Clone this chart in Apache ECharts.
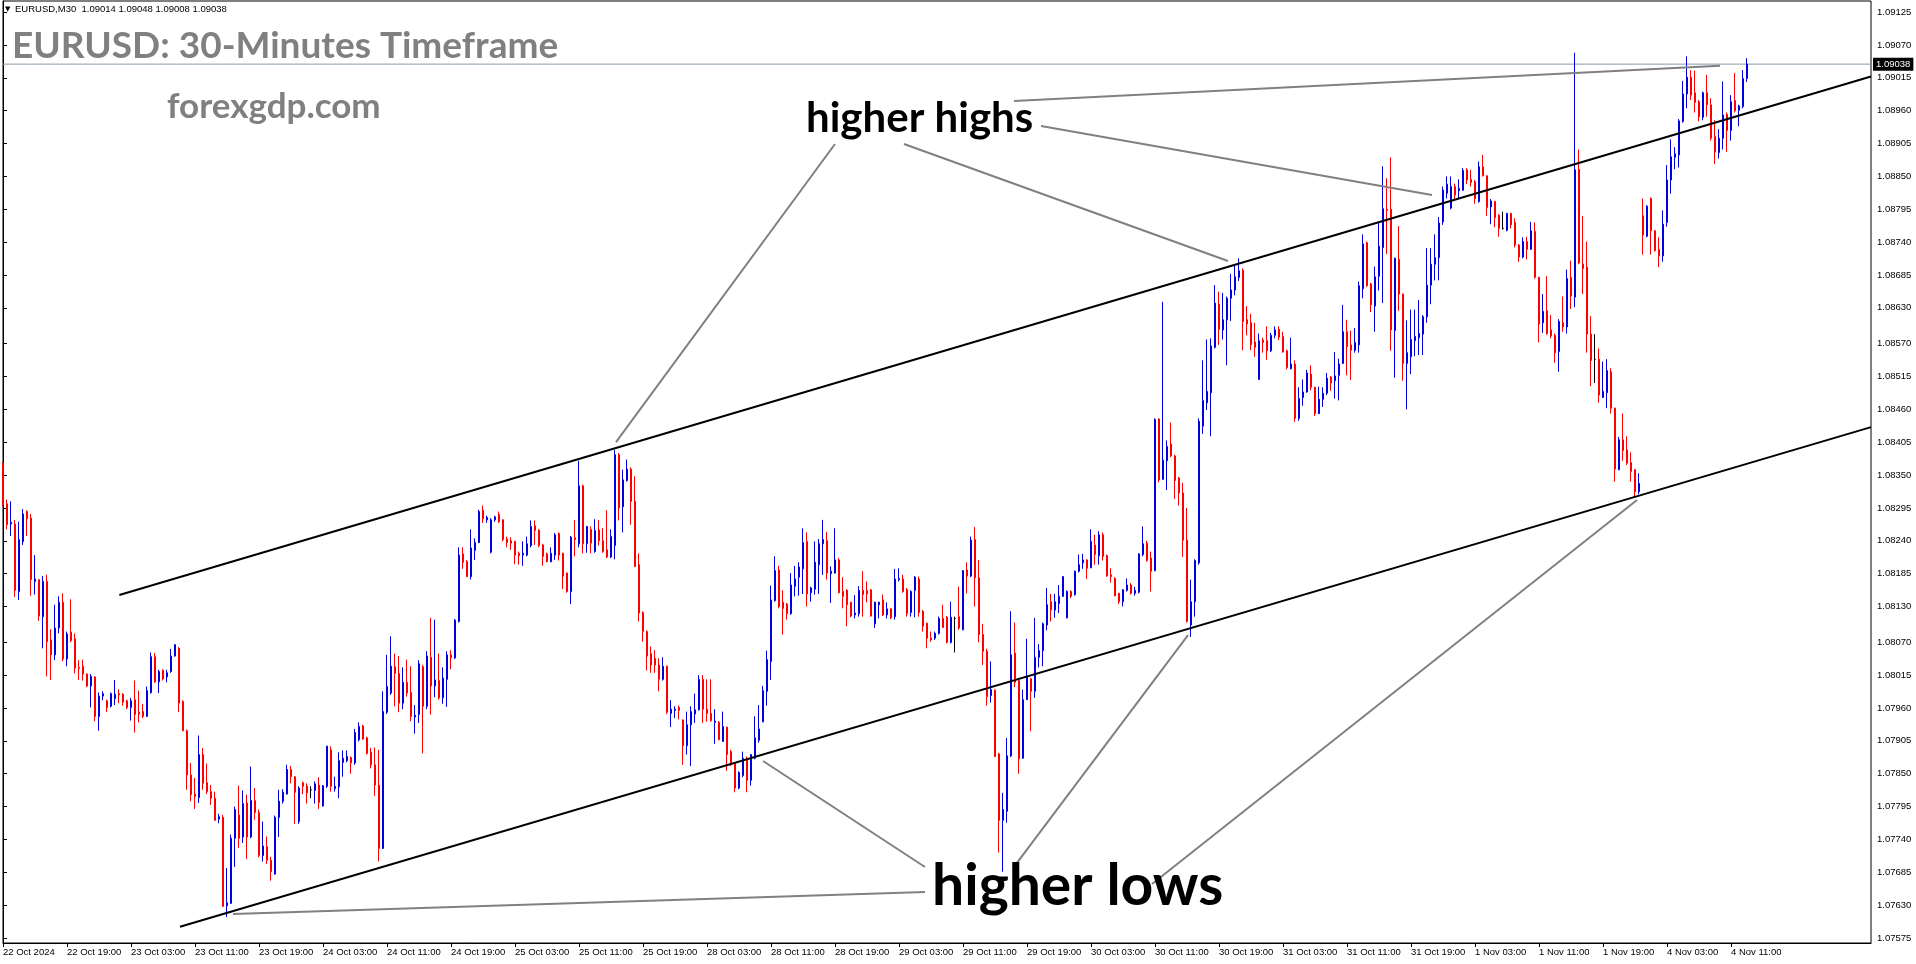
<!DOCTYPE html>
<html><head><meta charset="utf-8">
<script src="https://cdn.jsdelivr.net/npm/echarts@6/dist/echarts.min.js"></script>
<style>html,body{margin:0;padding:0;background:#fff}#c{width:1916px;height:964px}</style>
</head><body><div id="c"></div>
<script>
const symbolName = 'EURUSD,M30';
const titleText = 'EURUSD: 30-Minutes Timeframe';
const siteText = 'forexgdp.com';
const xLabels = ['22 Oct 2024','22 Oct 19:00','23 Oct 03:00','23 Oct 11:00','23 Oct 19:00','24 Oct 03:00','24 Oct 11:00','24 Oct 19:00','25 Oct 03:00','25 Oct 11:00','25 Oct 19:00','28 Oct 03:00','28 Oct 11:00','28 Oct 19:00','29 Oct 03:00','29 Oct 11:00','29 Oct 19:00','30 Oct 03:00','30 Oct 11:00','30 Oct 19:00','31 Oct 03:00','31 Oct 11:00','31 Oct 19:00','1 Nov 03:00','1 Nov 11:00','1 Nov 19:00','4 Nov 03:00','4 Nov 11:00'];
const yLabels = ['1.09125','1.09070','1.09015','1.08960','1.08905','1.08850','1.08795','1.08740','1.08685','1.08630','1.08570','1.08515','1.08460','1.08405','1.08350','1.08295','1.08240','1.08185','1.08130','1.08070','1.08015','1.07960','1.07905','1.07850','1.07795','1.07740','1.07685','1.07630','1.07575'];

const opens = [
1.08370,1.08302,1.08268,1.08268,1.08155,1.08239,1.08289,1.08278,1.08172,1.08175,
1.08113,1.08172,1.08074,1.08049,1.08094,1.08137,1.08042,1.08087,1.08076,1.08028,
1.08030,1.08017,1.07997,1.08012,1.07946,1.07980,1.07972,1.07963,1.07976,1.07984,
1.07983,1.07972,1.07961,1.07974,1.07953,1.07954,1.07946,1.07986,1.08046,1.08004,
1.08023,1.08012,1.08021,1.08047,1.08060,1.07971,1.07922,1.07848,1.07816,1.07810,
1.07882,1.07835,1.07820,1.07809,1.07774,1.07777,1.07629,1.07633,1.07742,1.07781,
1.07744,1.07801,1.07744,1.07805,1.07785,1.07713,1.07728,1.07705,1.07682,1.07777,
1.07804,1.07816,1.07857,1.07845,1.07770,1.07835,1.07829,1.07823,1.07822,1.07831,
1.07796,1.07829,1.07890,1.07825,1.07828,1.07869,1.07872,1.07877,1.07868,1.07907,
1.07930,1.07910,1.07886,1.07865,1.07831,1.07725,1.07953,1.07985,1.08029,1.08018,
1.07968,1.08003,1.07986,1.07945,1.07949,1.08029,1.07963,1.08045,1.07997,1.08006,
1.07977,1.08008,1.08049,1.08044,1.08105,1.08218,1.08205,1.08180,1.08224,1.08237,
1.08291,1.08275,1.08221,1.08275,1.08284,1.08275,1.08243,1.08240,1.08239,1.08219,
1.08216,1.08216,1.08232,1.08265,1.08258,1.08233,1.08218,1.08205,1.08216,1.08252,
1.08219,1.08186,1.08155,1.08245,1.08235,1.08332,1.08235,1.08259,1.08222,1.08258,
1.08240,1.08225,1.08213,1.08232,1.08384,1.08297,1.08341,1.08360,1.08306,1.08200,
1.08120,1.08088,1.08051,1.08043,1.08032,1.08008,1.08030,1.07951,1.07956,1.07961,
1.07940,1.07897,1.07932,1.07950,1.07957,1.08008,1.07958,1.07951,1.07936,1.07936,
1.07904,1.07928,1.07887,1.07868,1.07826,1.07847,1.07876,1.07839,1.07876,1.07906,
1.07937,1.07988,1.08038,1.08140,1.08191,1.08137,1.08134,1.08118,1.08164,1.08179,
1.08193,1.08239,1.08153,1.08159,1.08200,1.08235,1.08240,1.08185,1.08186,1.08208,
1.08155,1.08157,1.08137,1.08116,1.08118,1.08157,1.08157,1.08158,1.08101,1.08133,
1.08141,1.08116,1.08126,1.08113,1.08175,1.08176,1.08158,1.08120,1.08157,1.08176,
1.08122,1.08102,1.08077,1.08077,1.08085,1.08110,1.08112,1.08070,1.08110,1.08113,
1.08091,1.08191,1.08181,1.08242,1.08178,1.08083,1.08055,1.07981,1.07990,1.07883,
1.07772,1.07787,1.07880,1.08052,1.08006,1.07876,1.07974,1.08009,1.07988,1.08045,
1.08056,1.08099,1.08138,1.08124,1.08135,1.08147,1.08111,1.08155,1.08150,1.08189,
1.08203,1.08208,1.08195,1.08233,1.08215,1.08250,1.08215,1.08183,1.08177,1.08152,
1.08138,1.08157,1.08166,1.08152,1.08154,1.08217,1.08236,1.08211,1.08190,1.08444,
1.08343,1.08374,1.08402,1.08382,1.08345,1.08320,1.08241,1.08099,1.08138,1.08203,
1.08432,1.08471,1.08488,1.08564,1.08636,1.08593,1.08610,1.08646,1.08660,1.08681,
1.08693,1.08610,1.08605,1.08573,1.08510,1.08576,1.08575,1.08558,1.08584,1.08594,
1.08582,1.08558,1.08528,1.08536,1.08445,1.08480,1.08489,1.08519,1.08497,1.08453,
1.08477,1.08487,1.08514,1.08508,1.08517,1.08537,1.08590,1.08568,1.08559,1.08568,
1.08662,1.08739,1.08670,1.08633,1.08683,1.08731,1.08795,1.08795,1.08592,1.08711,
1.08653,1.08537,1.08548,1.08575,1.08580,1.08586,1.08615,1.08668,1.08703,1.08714,
1.08774,1.08822,1.08797,1.08833,1.08826,1.08827,1.08861,1.08845,1.08841,1.08808,
1.08866,1.08851,1.08799,1.08808,1.08785,1.08763,1.08760,1.08788,1.08773,1.08735,
1.08715,1.08741,1.08728,1.08758,1.08681,1.08605,1.08625,1.08593,1.08584,1.08557,
1.08605,1.08598,1.08681,1.08648,1.08862,1.08703,1.08698,1.08586,1.08544,1.08544,
1.08480,1.08488,1.08523,1.08462,1.08359,1.08409,1.08392,1.08371,1.08359,1.08322,
1.08784,1.08750,1.08813,1.08759,1.08728,1.08717,1.08773,1.08844,1.08882,1.08886,
1.08942,1.08988,1.09016,1.08990,1.08975,1.08949,1.08990,1.08970,1.08917,1.08890,
1.08914,1.08954,1.08927,1.08977,1.08961,1.08967,1.09014];

const closes = [
1.08300,1.08267,1.08271,1.08157,1.08242,1.08285,1.08277,1.08175,1.08176,1.08114,
1.08172,1.08071,1.08049,1.08094,1.08137,1.08042,1.08084,1.08073,1.08027,1.08026,
1.08017,1.07997,1.08013,1.07946,1.07980,1.07984,1.07961,1.07984,1.07983,1.07982,
1.07970,1.07961,1.07972,1.07949,1.07950,1.07946,1.07989,1.08046,1.08004,1.08021,
1.08009,1.08019,1.08047,1.08066,1.07968,1.07922,1.07848,1.07815,1.07812,1.07882,
1.07834,1.07820,1.07809,1.07772,1.07778,1.07628,1.07634,1.07742,1.07790,1.07742,
1.07800,1.07744,1.07805,1.07785,1.07713,1.07729,1.07705,1.07686,1.07777,1.07804,
1.07819,1.07857,1.07845,1.07819,1.07826,1.07829,1.07818,1.07823,1.07833,1.07802,
1.07830,1.07896,1.07829,1.07829,1.07872,1.07876,1.07879,1.07868,1.07919,1.07929,
1.07908,1.07884,1.07865,1.07831,1.07725,1.07954,1.07996,1.08030,1.08018,1.07968,
1.08003,1.07985,1.07946,1.07948,1.08034,1.07963,1.08047,1.07997,1.08007,1.07977,
1.08010,1.08049,1.08044,1.08107,1.08216,1.08204,1.08180,1.08228,1.08237,1.08289,
1.08277,1.08279,1.08275,1.08280,1.08272,1.08242,1.08237,1.08236,1.08216,1.08215,
1.08219,1.08235,1.08264,1.08257,1.08232,1.08214,1.08205,1.08219,1.08250,1.08216,
1.08181,1.08155,1.08246,1.08242,1.08332,1.08235,1.08264,1.08236,1.08257,1.08240,
1.08222,1.08213,1.08247,1.08384,1.08295,1.08342,1.08360,1.08306,1.08197,1.08119,
1.08088,1.08047,1.08032,1.08032,1.08008,1.08030,1.07953,1.07958,1.07958,1.07956,
1.07897,1.07932,1.07954,1.07957,1.08008,1.07958,1.07951,1.07939,1.07938,1.07907,
1.07929,1.07882,1.07865,1.07826,1.07852,1.07876,1.07839,1.07882,1.07910,1.07925,
1.07989,1.08041,1.08141,1.08190,1.08130,1.08127,1.08118,1.08166,1.08176,1.08196,
1.08237,1.08151,1.08161,1.08204,1.08235,1.08242,1.08186,1.08189,1.08208,1.08153,
1.08147,1.08133,1.08114,1.08119,1.08157,1.08150,1.08151,1.08114,1.08137,1.08137,
1.08116,1.08126,1.08111,1.08176,1.08177,1.08155,1.08118,1.08155,1.08179,1.08120,
1.08097,1.08077,1.08074,1.08085,1.08110,1.08095,1.08070,1.08112,1.08110,1.08094,
1.08190,1.08181,1.08241,1.08178,1.08083,1.08055,1.07979,1.07991,1.07879,1.07772,
1.07790,1.07880,1.08049,1.08003,1.07875,1.07974,1.08012,1.07988,1.08045,1.08056,
1.08101,1.08133,1.08124,1.08138,1.08147,1.08180,1.08155,1.08147,1.08189,1.08200,
1.08208,1.08194,1.08239,1.08217,1.08250,1.08214,1.08181,1.08180,1.08148,1.08138,
1.08158,1.08166,1.08152,1.08157,1.08218,1.08235,1.08207,1.08189,1.08443,1.08342,
1.08375,1.08398,1.08382,1.08341,1.08320,1.08241,1.08105,1.08138,1.08207,1.08440,
1.08475,1.08490,1.08566,1.08638,1.08594,1.08610,1.08646,1.08660,1.08682,1.08692,
1.08607,1.08603,1.08568,1.08564,1.08575,1.08572,1.08558,1.08584,1.08593,1.08581,
1.08556,1.08530,1.08536,1.08445,1.08478,1.08489,1.08521,1.08497,1.08453,1.08477,
1.08487,1.08512,1.08504,1.08516,1.08536,1.08590,1.08565,1.08559,1.08572,1.08667,
1.08737,1.08667,1.08635,1.08682,1.08733,1.08796,1.08793,1.08593,1.08713,1.08653,
1.08537,1.08555,1.08577,1.08582,1.08587,1.08615,1.08668,1.08703,1.08714,1.08772,
1.08827,1.08837,1.08833,1.08819,1.08830,1.08860,1.08844,1.08840,1.08813,1.08866,
1.08851,1.08798,1.08809,1.08781,1.08763,1.08763,1.08788,1.08769,1.08735,1.08715,
1.08741,1.08728,1.08759,1.08681,1.08603,1.08624,1.08587,1.08583,1.08555,1.08607,
1.08598,1.08679,1.08650,1.08861,1.08705,1.08696,1.08586,1.08542,1.08544,1.08484,
1.08490,1.08525,1.08462,1.08360,1.08409,1.08391,1.08370,1.08356,1.08322,1.08336,
1.08752,1.08800,1.08759,1.08726,1.08717,1.08770,1.08844,1.08883,1.08888,1.08943,
1.08988,1.09016,1.08986,1.08974,1.08950,1.08990,1.08970,1.08914,1.08891,1.08914,
1.08953,1.08927,1.08975,1.08960,1.08968,1.09014,1.09038];

const lows = [
1.08298,1.08259,1.08248,1.08146,1.08141,1.08233,1.08248,1.08148,1.08150,1.08106,
1.08060,1.08013,1.08007,1.08040,1.08085,1.08038,1.08030,1.08070,1.08018,1.08007,
1.08006,1.07995,1.07961,1.07938,1.07922,1.07973,1.07953,1.07961,1.07965,1.07968,
1.07964,1.07958,1.07939,1.07919,1.07936,1.07943,1.07945,1.07984,1.08002,1.07985,
1.08006,1.08003,1.08019,1.08046,1.07953,1.07921,1.07823,1.07804,1.07791,1.07801,
1.07823,1.07816,1.07798,1.07771,1.07767,1.07627,1.07610,1.07632,1.07694,1.07726,
1.07734,1.07707,1.07742,1.07773,1.07710,1.07703,1.07699,1.07671,1.07681,1.07744,
1.07800,1.07815,1.07834,1.07766,1.07766,1.07816,1.07800,1.07809,1.07800,1.07791,
1.07795,1.07826,1.07820,1.07820,1.07809,1.07845,1.07869,1.07850,1.07865,1.07904,
1.07907,1.07882,1.07859,1.07813,1.07703,1.07724,1.07950,1.07982,1.07963,1.07953,
1.07958,1.07979,1.07938,1.07917,1.07935,1.07884,1.07958,1.07949,1.07978,1.07974,
1.07967,1.07962,1.08025,1.08042,1.08103,1.08193,1.08179,1.08175,1.08208,1.08236,
1.08270,1.08270,1.08219,1.08272,1.08270,1.08239,1.08229,1.08225,1.08201,1.08200,
1.08198,1.08214,1.08229,1.08233,1.08229,1.08198,1.08204,1.08204,1.08208,1.08207,
1.08159,1.08153,1.08134,1.08214,1.08229,1.08219,1.08220,1.08219,1.08220,1.08232,
1.08220,1.08211,1.08211,1.08209,1.08274,1.08254,1.08339,1.08267,1.08196,1.08105,
1.08071,1.08023,1.08019,1.08019,1.07988,1.08006,1.07950,1.07928,1.07943,1.07941,
1.07865,1.07882,1.07863,1.07935,1.07956,1.07935,1.07937,1.07937,1.07900,1.07906,
1.07904,1.07855,1.07863,1.07819,1.07824,1.07844,1.07819,1.07830,1.07874,1.07902,
1.07936,1.07964,1.08007,1.08138,1.08127,1.08083,1.08108,1.08116,1.08147,1.08148,
1.08151,1.08130,1.08138,1.08150,1.08151,1.08183,1.08175,1.08136,1.08185,1.08152,
1.08127,1.08097,1.08112,1.08110,1.08113,1.08113,1.08137,1.08113,1.08094,1.08110,
1.08114,1.08110,1.08109,1.08108,1.08172,1.08153,1.08113,1.08113,1.08112,1.08113,
1.08088,1.08060,1.08071,1.08074,1.08083,1.08094,1.08068,1.08068,1.08053,1.08091,
1.08090,1.08152,1.08179,1.08130,1.08070,1.08032,1.07964,1.07969,1.07878,1.07718,
1.07686,1.07768,1.07878,1.07995,1.07850,1.07875,1.07974,1.07921,1.07977,1.08028,
1.08030,1.08090,1.08105,1.08111,1.08119,1.08146,1.08110,1.08144,1.08148,1.08187,
1.08193,1.08176,1.08194,1.08200,1.08200,1.08207,1.08180,1.08170,1.08147,1.08134,
1.08130,1.08155,1.08150,1.08148,1.08152,1.08214,1.08205,1.08155,1.08189,1.08338,
1.08342,1.08325,1.08380,1.08310,1.08299,1.08213,1.08103,1.08079,1.08113,1.08200,
1.08419,1.08459,1.08415,1.08562,1.08568,1.08577,1.08534,1.08608,1.08651,1.08675,
1.08559,1.08584,1.08559,1.08548,1.08510,1.08555,1.08543,1.08556,1.08579,1.08576,
1.08555,1.08527,1.08527,1.08439,1.08441,1.08466,1.08488,1.08492,1.08449,1.08452,
1.08464,1.08484,1.08491,1.08478,1.08475,1.08536,1.08517,1.08509,1.08555,1.08555,
1.08646,1.08665,1.08623,1.08590,1.08659,1.08638,1.08720,1.08558,1.08513,1.08625,
1.08508,1.08460,1.08519,1.08549,1.08551,1.08551,1.08605,1.08636,1.08676,1.08676,
1.08769,1.08813,1.08795,1.08812,1.08813,1.08826,1.08837,1.08833,1.08804,1.08806,
1.08850,1.08784,1.08770,1.08765,1.08749,1.08761,1.08758,1.08763,1.08731,1.08707,
1.08713,1.08711,1.08727,1.08679,1.08572,1.08588,1.08585,1.08579,1.08538,1.08523,
1.08590,1.08587,1.08628,1.08631,1.08703,1.08653,1.08555,1.08499,1.08504,1.08471,
1.08479,1.08462,1.08453,1.08339,1.08358,1.08374,1.08367,1.08339,1.08314,1.08318,
1.08719,1.08748,1.08719,1.08724,1.08698,1.08707,1.08766,1.08821,1.08862,1.08865,
1.08940,1.08964,1.08978,1.08957,1.08942,1.08944,1.08950,1.08910,1.08871,1.08880,
1.08895,1.08891,1.08910,1.08957,1.08934,1.08964,1.09008];

const highs = [
1.08371,1.08309,1.08306,1.08275,1.08272,1.08293,1.08291,1.08285,1.08216,1.08175,
1.08181,1.08183,1.08092,1.08133,1.08147,1.08152,1.08088,1.08142,1.08085,1.08040,
1.08041,1.08018,1.08017,1.08013,1.07986,1.07988,1.07974,1.07986,1.08007,1.07991,
1.07985,1.07974,1.07977,1.08006,1.07989,1.07967,1.07996,1.08053,1.08052,1.08024,
1.08025,1.08024,1.08059,1.08067,1.08062,1.07973,1.07924,1.07868,1.07843,1.07914,
1.07893,1.07867,1.07831,1.07820,1.07783,1.07781,1.07692,1.07748,1.07795,1.07830,
1.07822,1.07815,1.07862,1.07826,1.07790,1.07770,1.07745,1.07711,1.07780,1.07823,
1.07824,1.07865,1.07863,1.07846,1.07829,1.07837,1.07834,1.07829,1.07837,1.07844,
1.07831,1.07897,1.07896,1.07845,1.07886,1.07889,1.07889,1.07879,1.07925,1.07936,
1.07932,1.07912,1.07893,1.07894,1.07890,1.07988,1.08049,1.08080,1.08051,1.08047,
1.08028,1.08041,1.08030,1.07965,1.08040,1.08032,1.08055,1.08111,1.08108,1.08051,
1.08028,1.08055,1.08057,1.08109,1.08229,1.08229,1.08208,1.08259,1.08244,1.08292,
1.08299,1.08282,1.08278,1.08282,1.08289,1.08276,1.08247,1.08246,1.08240,1.08222,
1.08239,1.08247,1.08274,1.08274,1.08259,1.08235,1.08220,1.08229,1.08253,1.08254,
1.08220,1.08187,1.08248,1.08275,1.08374,1.08334,1.08265,1.08264,1.08276,1.08275,
1.08261,1.08291,1.08259,1.08392,1.08387,1.08359,1.08376,1.08363,1.08348,1.08219,
1.08122,1.08090,1.08063,1.08057,1.08043,1.08045,1.08031,1.07973,1.07963,1.07964,
1.07941,1.07954,1.07963,1.07984,1.08015,1.08015,1.08008,1.08008,1.07958,1.07938,
1.07954,1.07929,1.07890,1.07869,1.07854,1.07887,1.07879,1.07883,1.07946,1.07965,
1.07997,1.08056,1.08165,1.08214,1.08198,1.08157,1.08136,1.08186,1.08198,1.08204,
1.08261,1.08254,1.08163,1.08239,1.08243,1.08275,1.08255,1.08197,1.08261,1.08211,
1.08179,1.08159,1.08138,1.08149,1.08164,1.08189,1.08172,1.08159,1.08138,1.08138,
1.08150,1.08137,1.08127,1.08193,1.08194,1.08183,1.08161,1.08157,1.08181,1.08180,
1.08124,1.08103,1.08088,1.08088,1.08113,1.08133,1.08114,1.08138,1.08113,1.08163,
1.08191,1.08204,1.08247,1.08263,1.08208,1.08101,1.08059,1.08038,1.07991,1.07885,
1.07818,1.07910,1.08122,1.08103,1.08007,1.07991,1.08076,1.08010,1.08111,1.08067,
1.08103,1.08161,1.08151,1.08151,1.08166,1.08181,1.08157,1.08157,1.08190,1.08217,
1.08218,1.08209,1.08259,1.08250,1.08256,1.08254,1.08217,1.08194,1.08179,1.08153,
1.08159,1.08177,1.08169,1.08163,1.08219,1.08264,1.08240,1.08222,1.08445,1.08445,
1.08640,1.08408,1.08438,1.08384,1.08347,1.08337,1.08295,1.08175,1.08209,1.08445,
1.08542,1.08577,1.08579,1.08668,1.08657,1.08655,1.08649,1.08687,1.08702,1.08713,
1.08696,1.08633,1.08620,1.08605,1.08587,1.08580,1.08599,1.08588,1.08599,1.08599,
1.08590,1.08560,1.08580,1.08542,1.08497,1.08510,1.08526,1.08534,1.08498,1.08498,
1.08497,1.08521,1.08516,1.08556,1.08545,1.08635,1.08610,1.08592,1.08596,1.08674,
1.08753,1.08741,1.08672,1.08699,1.08774,1.08867,1.08847,1.08882,1.08714,1.08767,
1.08654,1.08609,1.08627,1.08627,1.08643,1.08618,1.08730,1.08730,1.08753,1.08782,
1.08833,1.08850,1.08850,1.08838,1.08845,1.08864,1.08864,1.08861,1.08844,1.08875,
1.08886,1.08852,1.08812,1.08809,1.08787,1.08791,1.08789,1.08789,1.08780,1.08737,
1.08748,1.08749,1.08774,1.08773,1.08682,1.08653,1.08683,1.08618,1.08587,1.08611,
1.08649,1.08694,1.08709,1.09057,1.08895,1.08784,1.08741,1.08616,1.08586,1.08562,
1.08540,1.08544,1.08529,1.08463,1.08414,1.08453,1.08415,1.08388,1.08360,1.08353,
1.08813,1.08802,1.08815,1.08760,1.08748,1.08793,1.08869,1.08912,1.08899,1.08946,
1.09010,1.09051,1.09028,1.09027,1.08978,1.08992,1.09020,1.08981,1.08944,1.08929,
1.09009,1.08957,1.08986,1.09023,1.08970,1.09028,1.09048];

const currentPrice = 1.09038;
// trend lines: [bar index, price]
const channelUpper = [[29.08, 1.081492], [467, 1.090172]];
const channelLower = [[44.25, 1.075937], [467, 1.084303]];
const pointersHigh = [
  [[208, 1.089043], [153.25, 1.084053]],
  [[225.25, 1.089043], [306.25, 1.087084]],
  [[259.5, 1.089344], [357.25, 1.088189]],
  [[252.75, 1.089762], [429.25, 1.090353]]
];
const pointersLow = [
  [[230.5, 1.076520], [57.5, 1.076151]],
  [[230.5, 1.076938], [190, 1.078713]],
  [[252.5, 1.076921], [296.25, 1.080822]],
  [[287.25, 1.076653], [408.5, 1.083082]]
];

const SLOTS = 468;
const BULL = '#0000DD', BEAR = '#FF0000';
const categories = Array.from({length: SLOTS}, (_, i) => String(i));
const showTick = (idx) => idx % 16 === 0 && (idx / 16) < xLabels.length;

const candleData = opens.map((o, i) => {
  const v = [o, closes[i], lows[i], highs[i]];
  if (o === closes[i]) return {value: v, itemStyle: {color: '#000', color0: '#000', borderColor: '#000', borderColor0: '#000'}};
  return v;
});

const last = opens.length - 1;
const headerText = symbolName + '  ' + [opens[last], highs[last], lows[last], closes[last]].map(v => v.toFixed(5)).join(' ');

const lineSeries = (pts, color) => ({
  type: 'line', xAxisIndex: 1, yAxisIndex: 0, data: pts, symbol: 'none', silent: true,
  lineStyle: {color: color, width: 2}, z: 5, animation: false
});

const chart = echarts.init(document.getElementById('c'), null, {renderer: 'canvas'});
const axisFont = 'Liberation Sans';
chart.setOption({
  animation: false,
  backgroundColor: '#fff',
  grid: {left: 3, right: 45, top: 1, bottom: 21, show: true, borderColor: '#000', borderWidth: 1, backgroundColor: '#fff'},
  xAxis: [{
    type: 'category', data: categories, boundaryGap: false,
    axisLine: {show: true, lineStyle: {color: '#000', width: 1}},
    axisTick: {show: true, interval: (i) => showTick(i), length: 4, lineStyle: {color: '#000'}},
    axisLabel: {show: true, interval: (i) => showTick(i), formatter: (v, i) => xLabels[i / 16] || '',
      align: 'left', margin: 4, color: '#000', fontSize: 9.5, fontFamily: axisFont},
    splitLine: {show: false}
  }, {
    type: 'value', min: 0, max: SLOTS - 1, show: false
  }],
  yAxis: [{
    type: 'value', position: 'right', min: 1.075666, max: 1.091437, scale: true,
    axisLine: {show: true, lineStyle: {color: '#000', width: 1}},
    axisTick: {show: true, length: 4, lineStyle: {color: '#000'}, customValues: yLabels.map(parseFloat)},
    axisLabel: {show: true, customValues: yLabels.map(parseFloat), formatter: (v) => v.toFixed(5),
      margin: 6, color: '#000', fontSize: 9.5, fontFamily: axisFont},
    splitLine: {show: false}
  }],
  series: [{
    type: 'candlestick', data: candleData, barWidth: 2.4, clip: false, silent: true,
    itemStyle: {color: BULL, color0: BEAR, borderColor: BULL, borderColor0: BEAR, borderWidth: 1},
    z: 3
  },
  {
    type: 'line', xAxisIndex: 1, yAxisIndex: 0, silent: true, clip: false, symbol: 'none', z: 2,
    data: [[0, currentPrice], [SLOTS - 1, currentPrice]],
    lineStyle: {color: '#8a99ab', width: 1},
    endLabel: {show: true, distance: 2, formatter: () => currentPrice.toFixed(5),
      backgroundColor: '#000', color: '#fff', fontSize: 9.5, fontFamily: axisFont, padding: [2, 3, 1, 3]}
  },
  lineSeries(channelUpper, '#000'),
  lineSeries(channelLower, '#000'),
  ...pointersHigh.map(p => lineSeries(p, '#808080')),
  ...pointersLow.map(p => lineSeries(p, '#808080'))
  ],
  graphic: [
    {type: 'text', x: 5, y: 9, z: 10, style: {text: '\u25BC', font: '7px "DejaVu Sans"', fill: '#000', textVerticalAlign: 'middle'}},
    {type: 'text', x: 15, y: 9, z: 10, style: {text: headerText, font: '9.5px "Liberation Sans"', fill: '#000', textVerticalAlign: 'middle'}},
    {type: 'text', x: 12, y: 46, z: 10, style: {text: titleText, font: 'bold 37px Lato', fill: '#808080', textVerticalAlign: 'middle'}},
    {type: 'text', x: 167, y: 107, z: 10, style: {text: siteText, font: 'bold 35px Lato', fill: '#808080', textVerticalAlign: 'middle'}},
    {type: 'text', x: 806, y: 118, z: 10, style: {text: 'higher highs', font: 'bold 42px Lato', fill: '#000', textVerticalAlign: 'middle'}},
    {type: 'text', x: 932, y: 887, z: 10, style: {text: 'higher lows', font: 'bold 57px Lato', fill: '#000', textVerticalAlign: 'middle'}}
  ]
});
</script>
</body></html>
